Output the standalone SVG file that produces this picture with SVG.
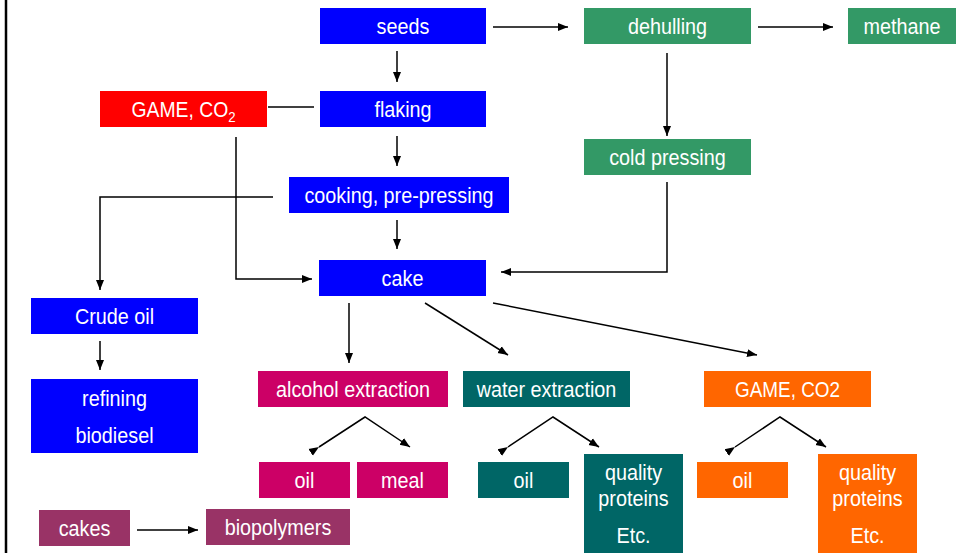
<svg xmlns="http://www.w3.org/2000/svg" width="956" height="553" viewBox="0 0 956 553">
<defs>
<style>
.t{font-family:"Liberation Sans Narrow","Arial Narrow","Liberation Sans",sans-serif;font-size:22px;fill:#fff;text-anchor:middle}
.c{stroke:#000;stroke-width:1.5;fill:none}
.blue{fill:#0000ff}.red{fill:#ff0000}.green{fill:#339966}.mag{fill:#cc0066}.teal{fill:#006666}.orange{fill:#ff6600}.purple{fill:#993366}
</style>
<marker id="ah" viewBox="0 0 10 10" refX="10" refY="5" markerWidth="10" markerHeight="10" markerUnits="userSpaceOnUse" orient="auto">
<path d="M0,1 L10,5 L0,9 Z" fill="#000"/>
</marker>
</defs>
<rect width="956" height="553" fill="#fff"/>
<line x1="6" y1="0" x2="6" y2="553" stroke="#000" stroke-width="2.5"/>
<g id="connectors">
<line class="c" x1="493" y1="27" x2="568" y2="27" marker-end="url(#ah)"/>
<line class="c" x1="758" y1="27" x2="833" y2="27" marker-end="url(#ah)"/>
<line class="c" x1="667" y1="53" x2="667" y2="136" marker-end="url(#ah)"/>
<polyline class="c" points="667,182 667,272 501,272" stroke-width="2" marker-end="url(#ah)"/>
<line class="c" x1="397" y1="51" x2="397" y2="82" marker-end="url(#ah)"/>
<line class="c" x1="268" y1="107" x2="314" y2="107" stroke-width="2"/>
<line class="c" x1="397" y1="136" x2="397" y2="166" marker-end="url(#ah)"/>
<line class="c" x1="397" y1="220" x2="397" y2="249" marker-end="url(#ah)"/>
<polyline class="c" points="273,197 100,197 100,290" marker-end="url(#ah)"/>
<polyline class="c" points="236,137 236,279 312,279" marker-end="url(#ah)"/>
<line class="c" x1="100" y1="341" x2="100" y2="370" marker-end="url(#ah)"/>
<line class="c" x1="137" y1="530" x2="198" y2="530" marker-end="url(#ah)"/>
<line class="c" x1="349" y1="303" x2="349" y2="363" marker-end="url(#ah)"/>
<line class="c" x1="425" y1="303" x2="508" y2="355" marker-end="url(#ah)"/>
<line class="c" x1="493" y1="303" x2="757" y2="355" marker-end="url(#ah)"/>
<polyline class="c" points="319,447 365,417 410,447" marker-start="url(#ah)" marker-end="url(#ah)"/>
<polyline class="c" points="508,447 553,417 599,447" marker-start="url(#ah)" marker-end="url(#ah)"/>
<polyline class="c" points="735,447 780,417 826,447" marker-start="url(#ah)" marker-end="url(#ah)"/>
</g>
<g id="seeds"><rect class="blue" x="320" y="8" width="166" height="36"/><text class="t" transform="translate(403 34) scale(.9 1)">seeds</text></g>
<g id="dehulling"><rect class="green" x="584" y="8" width="167" height="36"/><text class="t" transform="translate(667.5 34) scale(.9 1)">dehulling</text></g>
<g id="methane"><rect class="green" x="848" y="8" width="108" height="36"/><text class="t" transform="translate(902 34) scale(.9 1)">methane</text></g>
<g id="game1"><rect class="red" x="100" y="91" width="167" height="36"/><text class="t" transform="translate(183.5 117) scale(.88 1)">GAME, CO<tspan font-size="15" dy="5">2</tspan></text></g>
<g id="flaking"><rect class="blue" x="320" y="91" width="166" height="36"/><text class="t" transform="translate(403 117) scale(.9 1)">flaking</text></g>
<g id="coldpressing"><rect class="green" x="584" y="139" width="167" height="36"/><text class="t" transform="translate(667.5 165) scale(.9 1)">cold pressing</text></g>
<g id="cooking"><rect class="blue" x="289" y="177" width="220" height="36"/><text class="t" transform="translate(399 203) scale(.9 1)">cooking, pre-pressing</text></g>
<g id="cake"><rect class="blue" x="319" y="260" width="167" height="36"/><text class="t" transform="translate(402.5 286) scale(.9 1)">cake</text></g>
<g id="crudeoil"><rect class="blue" x="31" y="298" width="167" height="36"/><text class="t" transform="translate(114.5 324) scale(.9 1)">Crude oil</text></g>
<g id="refining"><rect class="blue" x="31" y="379" width="167" height="74"/><text class="t" transform="translate(114.5 406) scale(.9 1)">refining</text><text class="t" transform="translate(114.5 443) scale(.9 1)">biodiesel</text></g>
<g id="alcohol"><rect class="mag" x="258" y="371" width="190" height="36"/><text class="t" transform="translate(353 397) scale(.9 1)">alcohol extraction</text></g>
<g id="water"><rect class="teal" x="463" y="371" width="167" height="36"/><text class="t" transform="translate(546.5 397) scale(.9 1)">water extraction</text></g>
<g id="game2"><rect class="orange" x="704" y="371" width="167" height="36"/><text class="t" transform="translate(787.5 397) scale(.86 1)">GAME, CO2</text></g>
<g id="oil1"><rect class="mag" x="259" y="462" width="91" height="36"/><text class="t" transform="translate(304.5 488) scale(.9 1)">oil</text></g>
<g id="meal"><rect class="mag" x="357" y="462" width="91" height="36"/><text class="t" transform="translate(402.5 488) scale(.9 1)">meal</text></g>
<g id="oil2"><rect class="teal" x="478" y="462" width="91" height="36"/><text class="t" transform="translate(523.5 488) scale(.9 1)">oil</text></g>
<g id="quality1"><rect class="teal" x="584" y="454" width="99" height="99"/><text class="t" transform="translate(633.5 480) scale(.9 1)">quality</text><text class="t" transform="translate(633.5 506) scale(.9 1)">proteins</text><text class="t" transform="translate(633.5 543) scale(.9 1)">Etc.</text></g>
<g id="oil3"><rect class="orange" x="697" y="462" width="91" height="36"/><text class="t" transform="translate(742.5 488) scale(.9 1)">oil</text></g>
<g id="quality2"><rect class="orange" x="818" y="454" width="99" height="99"/><text class="t" transform="translate(867.5 480) scale(.9 1)">quality</text><text class="t" transform="translate(867.5 506) scale(.9 1)">proteins</text><text class="t" transform="translate(867.5 543) scale(.9 1)">Etc.</text></g>
<g id="cakes"><rect class="purple" x="39" y="510" width="91" height="36"/><text class="t" transform="translate(84.5 536) scale(.9 1)">cakes</text></g>
<g id="biopolymers"><rect class="purple" x="206" y="509" width="144" height="36"/><text class="t" transform="translate(278 535) scale(.9 1)">biopolymers</text></g>
</svg>
